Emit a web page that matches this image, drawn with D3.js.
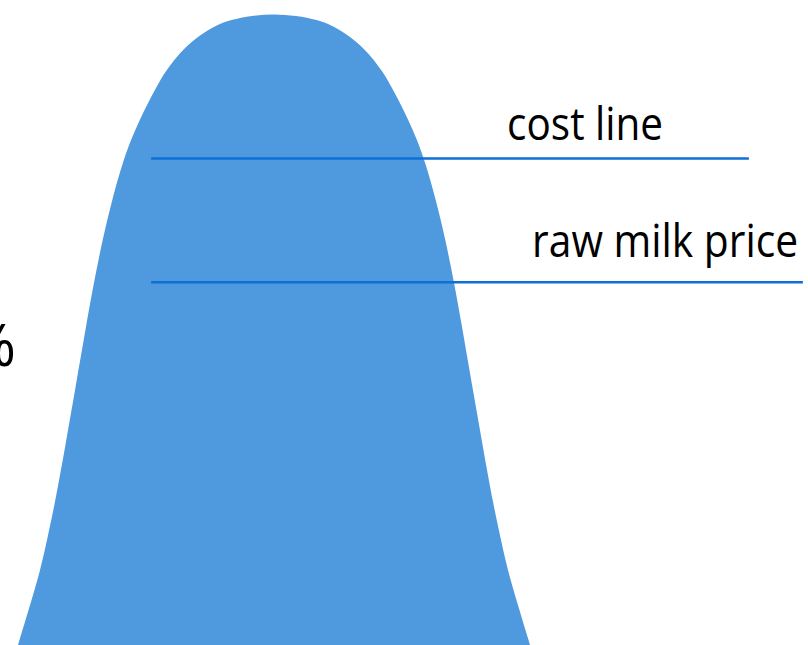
<!DOCTYPE html>
<html>
<head>
<meta charset="utf-8">
<script src="https://cdn.jsdelivr.net/npm/d3@7"></script>
<style>
  html, body { margin: 0; padding: 0; background: #fff; }
  svg { display: block; }
</style>
</head>
<body>
<svg id="chart" width="808" height="645"></svg>
<script>
// Curve outline (x in arbitrary units, value 0..100)
const curveX = [-10, -9.53, -9.14, -8.85, -8.57, -8.18, -7.77, -7.30, -7.03, -6.70, -6.33, -5.88, -5.59, -5.25, -4.86, -4.61, -4.26, -3.75, -3.36, -2.89, -2.23, -1.72, -0.86, 0,
                 0.86, 1.72, 2.23, 2.89, 3.36, 3.75, 4.26, 4.61, 4.86, 5.25, 5.59, 5.88, 6.33, 6.70, 7.03, 7.30, 7.77, 8.18, 8.57, 8.85, 9.14, 9.53, 10];
const curveY = [0, 6.34, 11.57, 16.96, 22.19, 30.90, 40.41, 51.51, 57.53, 64.18, 70.52, 76.86, 80.03, 83.20, 86.37, 88.27, 90.81, 93.50, 95.09, 96.67, 98.26, 99.05, 99.76, 100,
                99.76, 99.05, 98.26, 96.67, 95.09, 93.50, 90.81, 88.27, 86.37, 83.20, 80.03, 76.86, 70.52, 64.18, 57.53, 51.51, 40.41, 30.90, 22.19, 16.96, 11.57, 6.34, 0];

// Reference lines
const lineNames  = ["cost line", "raw milk price"];
const lineValues = [77.1, 57.5];
const lineStart  = [-4.8, -4.8];
const lineEnd    = [18.55, 20.66];

const svg = d3.select("#chart");
const W = 808, H = 645;

const x = d3.scaleLinear().domain([-10, 10]).range([18, 530]);
const y = d3.scaleLinear().domain([0, 100]).range([645, 14]);

const pts = curveX.map((v, i) => ({x: v, y: curveY[i]}));

const area = d3.area()
  .x(d => x(d.x))
  .y0(H + 2)
  .y1(d => y(d.y))
  .curve(d3.curveBasis);

svg.append("path")
  .datum(pts)
  .attr("d", area)
  .attr("fill", "#4F99DE");

const refs = lineNames.map((n, i) => ({name: n, v: lineValues[i], a: lineStart[i], b: lineEnd[i]}));

svg.selectAll("line.ref")
  .data(refs)
  .join("line")
  .attr("class", "ref")
  .attr("x1", d => x(d.a))
  .attr("x2", d => x(d.b))
  .attr("y1", d => y(d.v))
  .attr("y2", d => y(d.v))
  .attr("stroke", "#0F6FD6")
  .attr("stroke-width", 2.6);

const labelFont = "'Open Sans', 'Noto Sans', sans-serif";
const labelOffsets = [{dx: 356, dy: -18, w: 156}, {dx: 381, dy: -25, w: 266}];

svg.selectAll("text.lbl")
  .data(refs)
  .join("text")
  .attr("class", "lbl")
  .attr("x", (d, i) => x(d.a) + labelOffsets[i].dx)
  .attr("y", (d, i) => y(d.v) + labelOffsets[i].dy)
  .attr("textLength", (d, i) => labelOffsets[i].w)
  .attr("lengthAdjust", "spacingAndGlyphs")
  .attr("font-family", labelFont)
  .attr("font-size", 45)
  .attr("fill", "#000")
  .text(d => d.name);

// partially clipped label at the left edge
svg.append("text")
  .attr("x", 16)
  .attr("y", 366)
  .attr("text-anchor", "end")
  .attr("font-family", labelFont)
  .attr("font-size", 58)
  .attr("fill", "#000")
  .text("%");
</script>
</body>
</html>
